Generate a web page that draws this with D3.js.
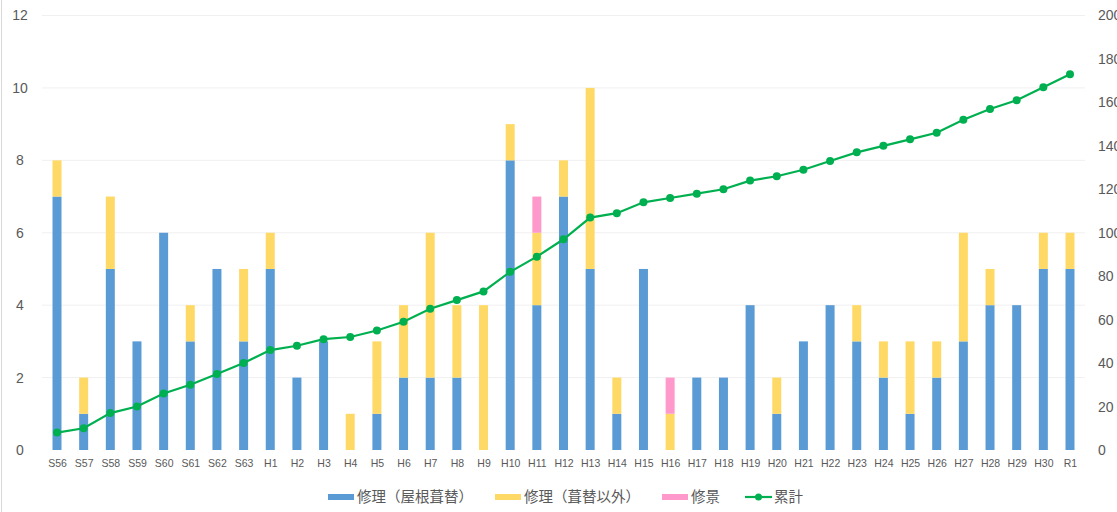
<!DOCTYPE html>
<html>
<head>
<meta charset="utf-8">
<script src="https://cdn.jsdelivr.net/npm/d3@7"></script>
<style>
  body { margin: 0; background: #fff; }
  svg { display: block; font-family: "Noto Sans CJK JP", "Noto Sans", sans-serif; }
</style>
</head>
<body>
<div id="chart"></div>
<script>
const categories = ["S56","S57","S58","S59","S60","S61","S62","S63",
  "H1","H2","H3","H4","H5","H6","H7","H8","H9","H10","H11","H12","H13","H14","H15",
  "H16","H17","H18","H19","H20","H21","H22","H23","H24","H25","H26","H27","H28","H29","H30","R1"];
const roofValues  = [7,1,5,3,6,3,5,3, 5,2,3,0,1,2,2,2,0,8,4,7,5,1,5, 0,2,2,4,1,3,4,3,2,1,2,3,4,4,5,5];
const otherValues = [1,1,2,0,0,1,0,2, 1,0,0,1,2,2,4,2,4,1,2,1,5,1,0, 1,0,0,0,1,0,0,1,1,2,1,3,1,0,1,1];
const sceneValues = [0,0,0,0,0,0,0,0, 0,0,0,0,0,0,0,0,0,0,1,0,0,0,0, 1,0,0,0,0,0,0,0,0,0,0,0,0,0,0,0];
const totalValues = [8,10,17,20,26,30,35,40, 46,48,51,52,55,59,65,69,73,82,89,97,107,109,114,
  116,118,120,124,126,129,133,137,140,143,146,152,157,161,167,173];
const leftTicks = [0,2,4,6,8,10,12];
const rightTicks = [0,20,40,60,80,100,120,140,160,180,200];
const seriesNames = ["修理（屋根葺替）", "修理（葺替以外）", "修景", "累計"];
const colors = ["#5b9bd5", "#ffd966", "#ff99cc", "#00b050"];

const width = 1117, height = 512;
const svg = d3.select("#chart").append("svg")
  .attr("width", width)
  .attr("height", height);

const x = d3.scalePoint().domain(categories).range([57, 1070]);
const yL = d3.scaleLinear().domain([0, 12]).range([450, 15.5]);
const yR = d3.scaleLinear().domain([0, 200]).range([450, 15.5]);

// left frame line
svg.append("line")
  .attr("x1", 1.5).attr("x2", 1.5).attr("y1", 0).attr("y2", height)
  .attr("stroke", "#d9d9d9");

// gridlines
svg.append("g")
  .selectAll("line")
  .data(leftTicks.slice(1))
  .join("line")
  .attr("x1", 42).attr("x2", 1085)
  .attr("y1", d => yL(d)).attr("y2", d => yL(d))
  .attr("stroke", "#f0f0f0");

// left axis
const axL = svg.append("g")
  .attr("transform", "translate(30,0)")
  .call(d3.axisLeft(yL).tickValues(leftTicks).tickSize(0).tickPadding(0));
axL.select(".domain").remove();
axL.selectAll("text").attr("x", -10).attr("text-anchor", "middle")
  .style("font-size", "14px").attr("fill", "#595959");

// right axis
const axR = svg.append("g")
  .attr("transform", "translate(1098,0)")
  .call(d3.axisRight(yR).tickValues(rightTicks).tickSize(0).tickPadding(0));
axR.select(".domain").remove();
axR.selectAll("text").style("font-size", "14px").attr("fill", "#595959");

// stacked bars
const stackData = categories.map((c, i) => ({cat: c, roof: roofValues[i], other: otherValues[i], scene: sceneValues[i]}));
const stack = d3.stack().keys(["roof", "other", "scene"])(stackData);
const barW = 9;

svg.append("g")
  .selectAll("g")
  .data(stack)
  .join("g")
  .attr("fill", (d, i) => colors[i])
  .selectAll("rect")
  .data(d => d)
  .join("rect")
  .attr("x", d => x(d.data.cat) - barW / 2)
  .attr("y", d => yL(d[1]))
  .attr("width", barW)
  .attr("height", d => yL(d[0]) - yL(d[1]));

// x axis labels
const axX = svg.append("g")
  .attr("transform", "translate(0,460)")
  .call(d3.axisBottom(x).tickSize(0).tickPadding(0));
axX.select(".domain").remove();
axX.selectAll("text").attr("dy", "0.71em").style("font-size", "10.5px").attr("fill", "#595959");

// cumulative line
const line = d3.line()
  .x((d, i) => x(categories[i]))
  .y(d => yR(d));

svg.append("path")
  .datum(totalValues)
  .attr("d", line)
  .attr("fill", "none")
  .attr("stroke", colors[3])
  .attr("stroke-width", 2.2);

svg.append("g")
  .selectAll("circle")
  .data(totalValues)
  .join("circle")
  .attr("cx", (d, i) => x(categories[i]))
  .attr("cy", d => yR(d))
  .attr("r", 4)
  .attr("fill", colors[3]);

// legend
const legendX = [328, 495, 662, 745];
const legend = svg.append("g");
seriesNames.forEach((name, i) => {
  const g = legend.append("g").attr("transform", `translate(${legendX[i]},497)`);
  if (i < 3) {
    g.append("rect").attr("x", 0).attr("y", -3).attr("width", 26).attr("height", 6).attr("fill", colors[i]);
  } else {
    g.append("line").attr("x1", 0).attr("x2", 27).attr("y1", 0).attr("y2", 0)
      .attr("stroke", colors[3]).attr("stroke-width", 2.2);
    g.append("circle").attr("cx", 13.5).attr("cy", 0).attr("r", 3.5).attr("fill", colors[3]);
  }
  g.append("text")
    .attr("x", 29)
    .attr("y", 0)
    .attr("dy", "0.35em")
    .style("font-size", "14.5px")
    .attr("fill", "#595959")
    .text(name);
});
</script>
</body>
</html>
